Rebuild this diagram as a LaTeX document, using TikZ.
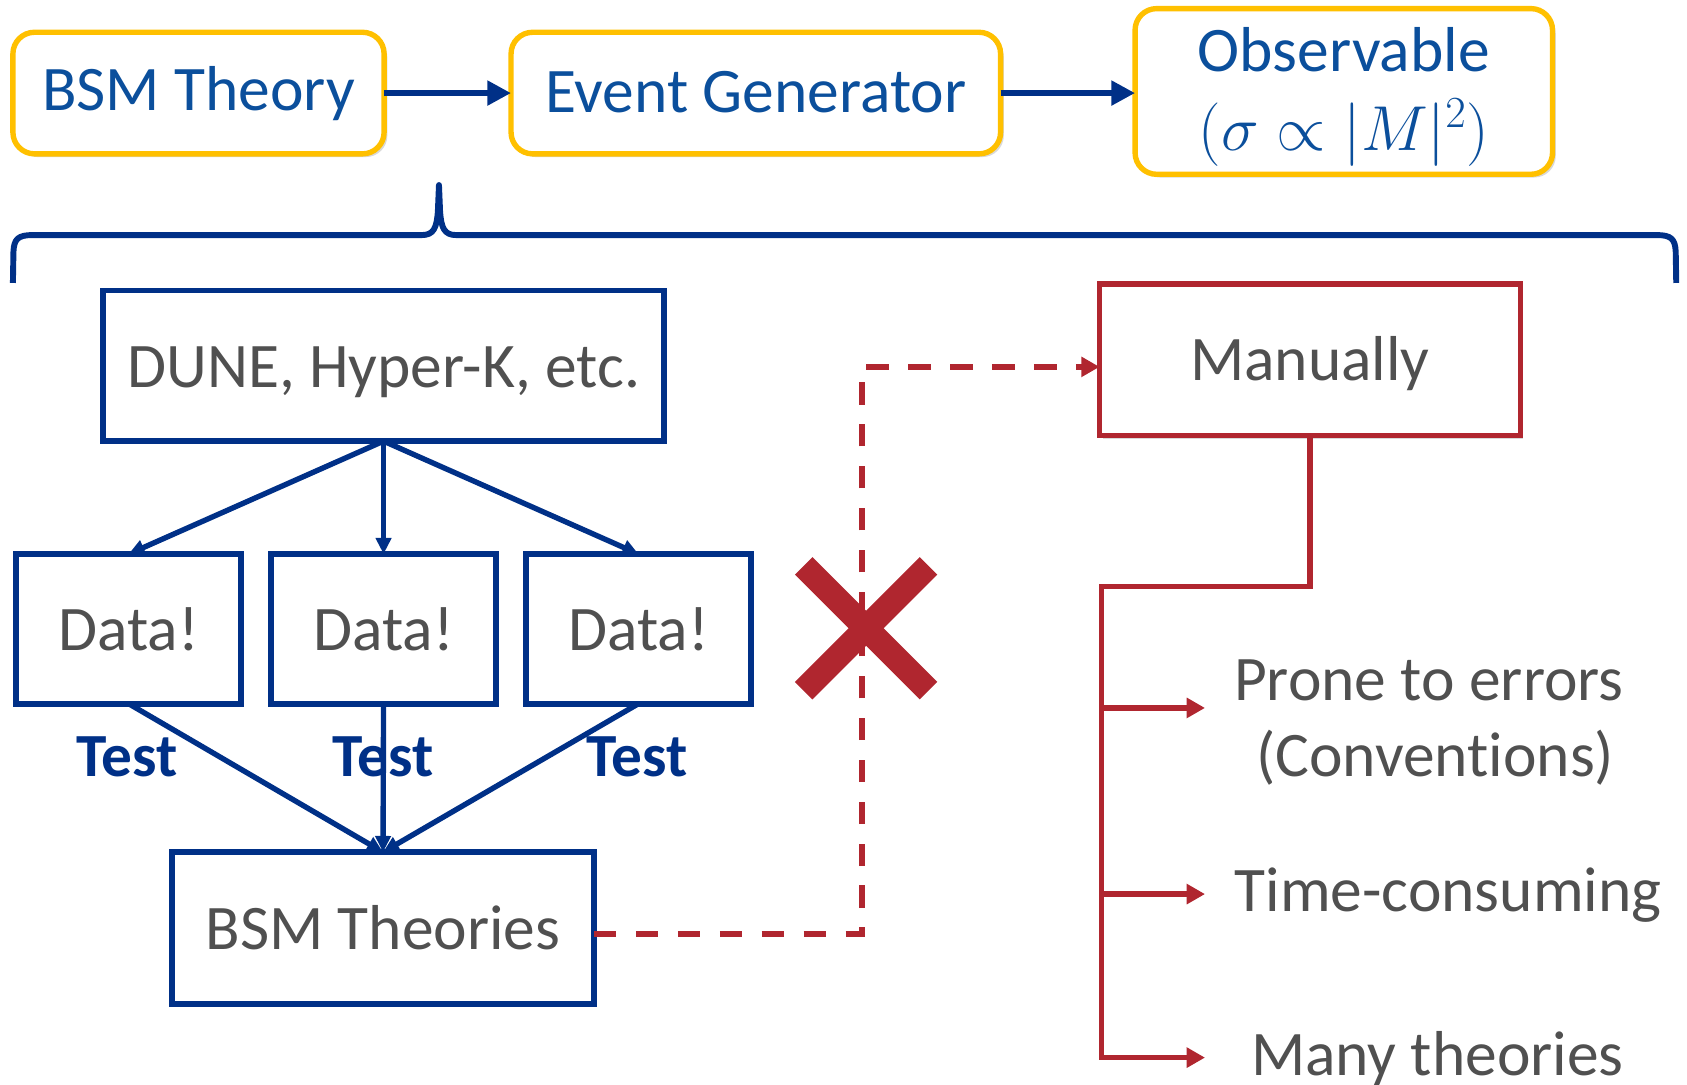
\RequirePackage{fix-cm}
\documentclass[tikz,border=0pt]{standalone}
\usepackage{fontspec}
\setmainfont[Ligatures=NoCommon]{Carlito}
\usetikzlibrary{arrows.meta,shadows,calc}
\definecolor{navy}{HTML}{003087}
\definecolor{tblue}{HTML}{0B4F9C}
\definecolor{gold}{HTML}{FFC000}
\definecolor{wine}{HTML}{B0262F}
\definecolor{txtgray}{HTML}{505050}
\newcommand\mainsz{\fontsize{59}{73}\selectfont}
\newcommand\testsz{\fontsize{57}{68}\selectfont\bfseries}
\begin{document}
\begin{tikzpicture}[x=1pt,y=-1pt,
  every node/.style={inner sep=0pt,outer sep=0pt},
  softshadow/.style={drop shadow={shadow xshift=3pt,shadow yshift=-3pt,opacity=0.25,fill=black!60}},
  topbox/.style={draw=gold,line width=5pt,rounded corners=20pt,fill=white,text=tblue,font=\mainsz,align=center,softshadow},
  bluebox/.style={draw=navy,line width=5.5pt,fill=white,text=txtgray,font=\mainsz,softshadow},
  redbox/.style={draw=wine,line width=5pt,fill=white,text=txtgray,font=\mainsz,softshadow},
  testlbl/.style={text=navy,font=\testsz},
  rtext/.style={text=txtgray,font=\mainsz},
  bigtip/.style={-{Triangle[length=22pt,width=22pt]}},
  smalltip/.style={-{Triangle[length=15pt,width=14pt]}},
  redtip/.style={-{Triangle[length=17pt,width=18pt]}}
]
\useasboundingbox (0,0) rectangle (1568,1008);

% top row
\node[topbox, minimum width=345pt, minimum height=113pt, text height=42pt, text depth=9pt] (bsm) at (184.5,86.5) {BSM Theory};
\node[topbox, minimum width=455pt, minimum height=113pt, text height=42pt, text depth=6pt] (gen) at (702.5,86.5) {Event Generator};
\node[topbox, minimum width=388pt, minimum height=154pt] (obs) at (1249,85) {};
\node[text=tblue, font=\mainsz, align=center] (obstxt) at ($(obs.center)+(0,5)$) {Observable\\$(\sigma\propto|M|^2)$};
\draw[navy, line width=6pt, bigtip] (bsm.east) -- (gen.west);
\draw[navy, line width=6pt, bigtip] (gen.east) -- (gen.east -| obs.west);

% brace
\draw[navy, line width=5.5pt, line join=round] (12,263) -- (12.5,234) .. controls (13,222) and (17,218.5) .. (30,218.5) -- (392,218.5) .. controls (403,218.5) and (406,212) .. (407,196) -- (408,172) -- (409,196) .. controls (410,212) and (413,218.5) .. (424,218.5) -- (1540,218.5) .. controls (1553,218.5) and (1557,222) .. (1557.5,234) -- (1558,263);

% left part
\node[bluebox, minimum width=521pt, minimum height=140pt, text height=50pt, text depth=10pt] (dune) at (356.5,340) {DUNE, Hyper-K, etc.};
\node[bluebox, minimum width=209pt, minimum height=139pt] (d1) at (119.5,584.5) {Data!};
\node[bluebox, minimum width=209pt, minimum height=139pt] (d2) at (356.5,584.5) {Data!};
\node[bluebox, minimum width=209pt, minimum height=139pt] (d3) at (593.5,584.5) {Data!};
\node[bluebox, minimum width=392pt, minimum height=141pt] (bt) at (356,862.5) {BSM Theories};

\node[testlbl] (t1) at (118,703) {Test};
\node[testlbl] (t2) at (356,703) {Test};
\node[testlbl] (t3) at (592,703) {Test};

\draw[navy, line width=5pt, smalltip] (dune.south) -- (d1.north);
\draw[navy, line width=5pt, smalltip] (dune.south) -- (d2.north);
\draw[navy, line width=5pt, smalltip] (dune.south) -- (d3.north);
\draw[navy, line width=5pt, smalltip] (d1.south) -- (bt.north);
\draw[navy, line width=5pt, smalltip] (d2.south) -- (bt.north);
\draw[navy, line width=5pt, smalltip] (d3.south) -- (bt.north);

% right part
\node[redbox, minimum width=391pt, minimum height=141pt, text height=46pt, text depth=8pt] (man) at (1217.5,334.5) {Manually};
\coordinate (xc) at (801,0);
\coordinate (bts) at ($(bt.east)+(0,5.5)$);
\coordinate (mw) at ($(man.west)+(0,6.5)$);
\draw[wine, line width=5.5pt, dash pattern=on 21pt off 18pt, redtip] (bts) -- (bts -| xc) -- (xc |- mw) -- (mw);

\coordinate (xm) at (805,584);
\draw[wine, line width=23pt] ($(xm)+(-58,-58)$) -- ($(xm)+(58,58)$);
\draw[wine, line width=23pt] ($(xm)+(-58,58)$) -- ($(xm)+(58,-58)$);

\coordinate (bend) at (1024,545);
\coordinate (a1) at (1120,658);
\coordinate (a2) at (1120,831);
\coordinate (a3) at (1120,983);
\draw[wine, line width=5pt, redtip] (man.south) |- (bend) |- (a3);
\draw[wine, line width=5pt, redtip] (bend |- a1) -- (a1);
\draw[wine, line width=5pt, redtip] (bend |- a2) -- (a2);

\node[rtext, anchor=base] (p1) at (1328,651) {Prone to errors};
\node[rtext, anchor=base] (p2) at (1334,722) {(Conventions)};
\node[rtext, anchor=base] (tc) at (1346,847) {Time-consuming};
\node[rtext, anchor=base] (mt) at (1336,1000) {Many theories};
\end{tikzpicture}
\end{document}
